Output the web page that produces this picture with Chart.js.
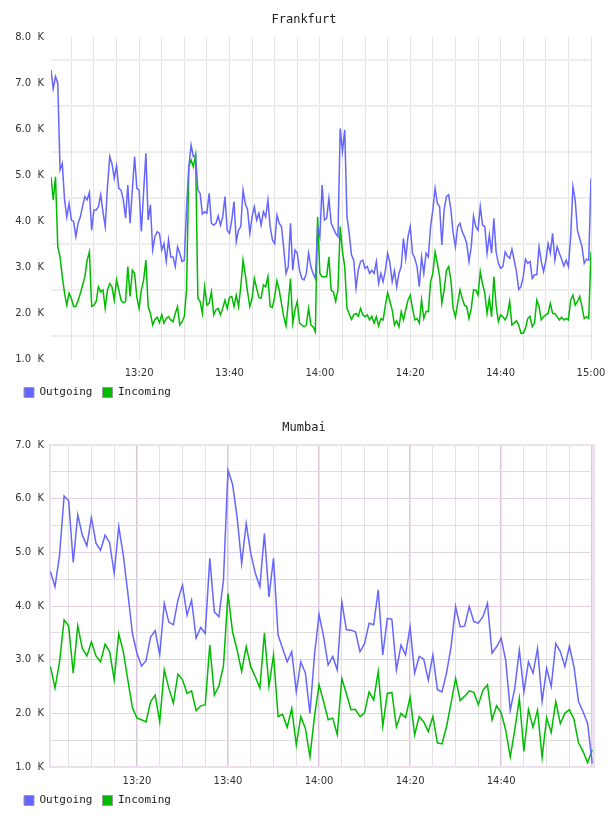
<!DOCTYPE html>
<html>
<head>
<meta charset="utf-8">
<script src="https://cdn.jsdelivr.net/npm/chart.js@4.4.1/dist/chart.umd.min.js"></script>
<style>
  html, body { margin: 0; padding: 0; background: #fff; overflow: hidden; }
  canvas { position: absolute; left: 0; }
  #frankfurt { top: 0; }
  #mumbai { top: 408px; }
</style>
</head>
<body>
<canvas id="frankfurt" width="608" height="408"></canvas>
<canvas id="mumbai" width="608" height="408"></canvas>
<script>
// values are in thousands, time is minutes after 13:00

// Frankfurt: one sample every 30 s starting 13:00:30
var frankfurtStart = 0.5;
var frankfurtStep = 0.5;
var frankfurtOutgoingK = [
  7.28, 6.88, 7.14, 6.99, 5.11, 5.25, 4.46, 4.09, 4.38, 4.02,
  3.99, 3.66, 3.95, 4.09, 4.33, 4.53, 4.46, 4.62, 3.80, 4.24,
  4.24, 4.31, 4.57, 4.20, 3.88, 4.75, 5.40, 5.24, 4.93, 5.20,
  4.71, 4.67, 4.46, 4.06, 4.78, 3.95, 4.67, 5.40, 4.71, 4.67,
  3.77, 4.64, 5.47, 4.02, 4.35, 3.37, 3.66, 3.77, 3.73, 3.37,
  3.51, 3.12, 3.59, 3.22, 3.22, 3.01, 3.44, 3.30, 3.12, 3.15,
  4.28, 5.18, 5.65, 5.40, 5.43, 4.67, 4.60, 4.15, 4.20, 4.17,
  4.60, 3.95, 3.91, 3.95, 4.11, 3.91, 4.09, 4.53, 3.80, 3.73,
  4.02, 4.42, 3.55, 3.80, 3.88, 4.67, 4.38, 4.24, 3.73, 4.09,
  4.31, 4.02, 4.17, 3.91, 4.20, 4.09, 4.46, 3.88, 3.59, 3.51,
  4.13, 3.95, 3.88, 3.41, 2.86, 3.01, 3.95, 2.93, 3.37, 3.30,
  2.93, 2.75, 2.72, 2.86, 3.30, 3.01, 2.86, 2.75, 3.88, 3.66,
  4.78, 4.02, 4.06, 4.49, 3.95, 3.84, 3.73, 3.66, 6.01, 5.51,
  5.98, 4.09, 3.73, 3.26, 3.15, 2.54, 2.93, 3.12, 3.15, 2.97,
  3.01, 2.86, 2.93, 2.86, 3.12, 2.64, 2.86, 2.68, 2.93, 3.30,
  3.09, 2.68, 2.92, 2.57, 2.86, 3.01, 3.62, 3.19, 3.66, 3.88,
  3.30, 3.19, 3.01, 2.57, 3.22, 2.86, 3.30, 3.22, 3.88, 4.24,
  4.71, 4.38, 4.31, 3.48, 4.24, 4.53, 4.57, 4.24, 3.73, 3.44,
  3.88, 3.95, 3.77, 3.66, 3.51, 3.12, 3.44, 4.11, 3.88, 3.80,
  4.31, 3.91, 3.88, 3.30, 3.70, 3.30, 4.06, 3.33, 3.08, 2.97,
  3.01, 3.33, 3.24, 3.19, 3.39, 3.15, 2.90, 2.51, 2.57, 2.79,
  3.17, 3.08, 3.12, 2.75, 2.83, 2.83, 3.44, 3.12, 2.90, 3.13,
  3.51, 3.30, 3.73, 3.15, 3.44, 3.30, 3.17, 3.02, 3.15, 3.01,
  3.66, 4.75, 4.46, 3.80, 3.62, 3.44, 3.08, 3.17, 3.15, 4.93
];
var frankfurtIncomingK = [
  4.96, 4.46, 4.96, 3.44, 3.22, 2.79, 2.43, 2.17, 2.43, 2.32,
  2.14, 2.14, 2.27, 2.43, 2.61, 2.79, 3.15, 3.33, 2.14, 2.17,
  2.25, 2.57, 2.46, 2.50, 2.10, 2.50, 2.64, 2.57, 2.28, 2.72,
  2.50, 2.28, 2.22, 2.25, 3.01, 2.36, 2.93, 2.86, 2.34, 2.10,
  2.50, 2.72, 3.15, 2.14, 1.99, 1.74, 1.86, 1.91, 1.79, 1.96,
  1.78, 1.88, 1.92, 1.85, 1.81, 1.99, 2.14, 1.74, 1.81, 1.92,
  2.50, 5.18, 5.33, 5.18, 5.43, 2.32, 2.25, 1.99, 2.57, 2.17,
  2.21, 2.46, 1.96, 2.07, 2.10, 1.96, 2.10, 2.28, 2.10, 2.34,
  2.36, 2.14, 2.39, 2.14, 2.57, 3.15, 2.83, 2.46, 2.14, 2.32,
  2.75, 2.54, 2.34, 2.32, 2.61, 2.57, 2.79, 2.14, 2.12, 2.36,
  2.70, 2.50, 2.21, 1.92, 1.72, 2.21, 2.75, 1.78, 2.07, 2.25,
  1.78, 1.74, 1.70, 1.74, 2.10, 1.74, 1.70, 1.59, 4.09, 2.86,
  2.79, 2.79, 2.79, 3.22, 2.50, 2.46, 2.25, 2.50, 3.88, 3.33,
  3.01, 2.10, 1.98, 1.86, 1.96, 1.99, 1.93, 2.10, 1.96, 1.92,
  1.96, 1.85, 1.93, 1.78, 1.92, 1.72, 1.88, 1.85, 2.17, 2.44,
  2.25, 2.07, 1.74, 1.83, 1.70, 2.03, 1.85, 2.07, 2.28, 2.39,
  2.10, 1.85, 1.88, 1.78, 2.28, 1.88, 2.03, 2.03, 2.68, 2.86,
  3.33, 3.08, 2.79, 2.21, 2.50, 2.92, 3.01, 2.72, 2.10, 1.91,
  2.21, 2.50, 2.32, 2.17, 2.14, 1.88, 2.10, 2.50, 2.50, 2.39,
  2.90, 2.63, 2.43, 1.99, 2.32, 1.92, 2.79, 2.17, 1.81, 1.96,
  1.92, 1.85, 1.96, 2.25, 1.74, 1.78, 1.83, 1.74, 1.56, 1.56,
  1.67, 1.88, 1.93, 1.70, 1.78, 2.28, 2.14, 1.85, 1.92, 1.96,
  1.99, 2.21, 1.99, 1.99, 1.92, 1.85, 1.91, 1.85, 1.88, 1.85,
  2.28, 2.39, 2.17, 2.25, 2.36, 2.14, 1.88, 1.92, 1.88, 3.33
];

// Mumbai: one sample per minute starting 13:01
var mumbaiStart = 1;
var mumbaiStep = 1;
var mumbaiOutgoingK = [
  4.64, 4.36, 4.95, 6.05, 5.96, 4.81, 5.70, 5.32, 5.12, 5.65,
  5.17, 5.04, 5.32, 5.18, 4.61, 5.48, 4.95, 4.24, 3.49, 3.12,
  2.88, 2.98, 3.42, 3.54, 3.09, 4.05, 3.70, 3.65, 4.11, 4.39,
  3.83, 4.11, 3.40, 3.60, 3.49, 4.89, 3.89, 3.80, 4.48, 6.53,
  6.27, 5.66, 4.79, 5.54, 4.98, 4.61, 4.36, 5.35, 4.17, 4.89,
  3.46, 3.21, 2.96, 3.15, 2.40, 2.96, 2.75, 2.00, 3.09, 3.84,
  3.43, 2.90, 3.06, 2.81, 4.08, 3.56, 3.55, 3.52, 3.15, 3.30,
  3.68, 3.65, 4.30, 3.09, 3.77, 3.75, 2.81, 3.27, 3.09, 3.61,
  2.75, 3.06, 3.01, 2.62, 3.09, 2.44, 2.40, 2.75, 3.24, 3.99,
  3.61, 3.63, 3.99, 3.71, 3.68, 3.80, 4.05, 3.12, 3.24, 3.40,
  2.99, 2.06, 2.47, 3.18, 2.40, 2.96, 2.75, 3.21, 2.22, 2.84,
  2.50, 3.30, 3.15, 2.87, 3.25, 2.87, 2.22, 2.03, 1.81, 1.07
];
var mumbaiIncomingK = [
  2.87, 2.47, 2.96, 3.74, 3.63, 2.75, 3.63, 3.21, 3.07, 3.33,
  3.07, 2.96, 3.29, 3.15, 2.63, 3.48, 3.15, 2.62, 2.11, 1.91,
  1.88, 1.84, 2.22, 2.34, 1.84, 2.81, 2.47, 2.19, 2.73, 2.63,
  2.37, 2.42, 2.05, 2.14, 2.16, 3.27, 2.34, 2.51, 2.88, 4.23,
  3.52, 3.18, 2.78, 3.24, 2.87, 2.68, 2.47, 3.50, 2.50, 3.09,
  1.94, 1.98, 1.74, 2.09, 1.41, 1.94, 1.72, 1.19, 1.94, 2.53,
  2.22, 1.88, 1.91, 1.60, 2.65, 2.37, 2.07, 2.07, 1.94, 2.01,
  2.40, 2.25, 2.78, 1.76, 2.37, 2.39, 1.75, 2.00, 1.92, 2.30,
  1.60, 1.94, 1.84, 1.66, 1.94, 1.45, 1.43, 1.75, 2.19, 2.65,
  2.24, 2.32, 2.42, 2.39, 2.16, 2.43, 2.53, 1.88, 2.14, 2.01,
  1.69, 1.19, 1.69, 2.28, 1.29, 2.07, 1.74, 2.06, 1.18, 1.92,
  1.64, 2.22, 1.81, 2.00, 2.07, 1.89, 1.45, 1.29, 1.08, 1.32
];

var seriesNames = ['Outgoing', 'Incoming'];
var seriesColors = ['#6666ff', '#00bb00'];

// grid every 5 minutes, labels every 20
var xTickMinutes = [5, 10, 15, 20, 25, 30, 35, 40, 45, 50, 55, 60,
                    65, 70, 75, 80, 85, 90, 95, 100, 105, 110, 115, 120];
var frankfurtLabelMinutes = [20, 40, 60, 80, 100, 120];
var mumbaiLabelMinutes = [20, 40, 60, 80, 100];

Chart.defaults.font.family = 'DejaVu Sans';

function toPoints(start, step, values) {
  return values.map(function (v, i) { return { x: start + i * step, y: v }; });
}

function isWhole(v) {
  return Math.abs(v - Math.round(v)) < 1e-6;
}

function clock(minutes) {
  var h = 13 + Math.floor(minutes / 60);
  var m = minutes % 60;
  return h + ':' + (m < 10 ? '0' : '') + m;
}

// flot-style frame around the Mumbai plot
var frameBorder = {
  id: 'frameBorder',
  beforeDatasetsDraw: function (chart) {
    var a = chart.chartArea, ctx = chart.ctx;
    ctx.save();
    ctx.strokeStyle = '#eedfee';
    ctx.lineWidth = 2;
    ctx.strokeRect(a.left, a.top, a.right - a.left, a.bottom - a.top);
    ctx.restore();
  }
};

function buildChart(id, o) {
  return new Chart(document.getElementById(id), {
    type: 'line',
    data: {
      datasets: [{
        label: seriesNames[0],
        data: toPoints(o.start, o.step, o.outgoing),
        borderColor: seriesColors[0],
        backgroundColor: seriesColors[0],
        borderWidth: 1.5,
        pointRadius: 0
      }, {
        label: seriesNames[1],
        data: toPoints(o.start, o.step, o.incoming),
        borderColor: seriesColors[1],
        backgroundColor: seriesColors[1],
        borderWidth: 1.5,
        pointRadius: 0
      }]
    },
    options: {
      responsive: false,
      animation: false,
      layout: { padding: { left: 14, right: 14, top: 0, bottom: 0 } },
      plugins: {
        title: {
          display: true,
          text: o.title,
          color: '#222',
          font: { family: 'DejaVu Sans Mono', size: 12, weight: 'normal', lineHeight: 1.2 },
          padding: { top: 13, bottom: 9.6 }
        },
        legend: {
          position: 'bottom',
          align: 'start',
          labels: {
            boxWidth: 10,
            boxHeight: 10,
            padding: 10,
            color: '#222',
            font: { family: 'DejaVu Sans Mono', size: 11 },
            generateLabels: function (chart) {
              return Chart.defaults.plugins.legend.labels.generateLabels(chart).map(function (l) {
                l.strokeStyle = '#999';
                l.lineWidth = 1;
                return l;
              });
            }
          }
        },
        tooltip: { enabled: false }
      },
      scales: {
        x: {
          type: 'linear',
          min: o.xMin,
          max: o.xMax,
          afterBuildTicks: function (axis) {
            axis.ticks = xTickMinutes.map(function (v) { return { value: v }; });
          },
          afterFit: function (scale) {
            scale.height = 18;
            scale.paddingLeft = 0;
            scale.paddingRight = 0;
          },
          border: { display: false },
          grid: { drawTicks: false, color: o.xGridColor, lineWidth: o.xGridWidth },
          ticks: {
            padding: 8,
            autoSkip: false,
            maxRotation: 0,
            color: '#333',
            font: { size: 10 },
            callback: function (v) { return o.labelMinutes.indexOf(v) >= 0 ? clock(v) : ''; }
          }
        },
        y: {
          min: o.yMin,
          max: o.yMax,
          afterFit: function (scale) { scale.width = o.yWidth; },
          border: { display: false },
          grid: { drawTicks: false, color: o.yGridColor, lineWidth: o.yGridWidth },
          ticks: {
            stepSize: 0.5,
            autoSkip: false,
            padding: o.yPad,
            color: '#333',
            font: { size: 10 },
            callback: function (v) { return isWhole(v) ? v.toFixed(1) + '  K' : ''; }
          }
        },
        // empty strip that keeps the plot off the right edge
        gap: {
          position: 'right',
          display: true,
          afterFit: function (scale) { scale.width = o.rightGap; },
          border: { display: false },
          grid: { display: false },
          ticks: { display: false }
        }
      }
    },
    plugins: o.plugins || []
  });
}

buildChart('frankfurt', {
  title: 'Frankfurt',
  start: frankfurtStart, step: frankfurtStep,
  outgoing: frankfurtOutgoingK, incoming: frankfurtIncomingK,
  xMin: 0.5, xMax: 120, yMin: 1, yMax: 8,
  yWidth: 37, yPad: 7, rightGap: 3,
  labelMinutes: frankfurtLabelMinutes,
  xGridColor: '#e4e4e4', xGridWidth: 1,
  yGridColor: function (ctx) { return isWhole(ctx.tick.value) ? 'rgba(0,0,0,0)' : '#eeeeee'; },
  yGridWidth: 2
});

buildChart('mumbai', {
  title: 'Mumbai',
  start: mumbaiStart, step: mumbaiStep,
  outgoing: mumbaiOutgoingK, incoming: mumbaiIncomingK,
  xMin: 0.9, xMax: 120.4, yMin: 1, yMax: 7,
  yWidth: 36, yPad: 6, rightGap: 0,
  labelMinutes: mumbaiLabelMinutes,
  xGridColor: function (ctx) { return ctx.tick.value % 20 === 0 ? '#dcc6dc' : '#e2e2e2'; },
  xGridWidth: function (ctx) { return ctx.tick.value % 20 === 0 ? 1.5 : 1; },
  yGridColor: function (ctx) { return isWhole(ctx.tick.value) ? '#e6d0e6' : '#dedede'; },
  yGridWidth: 1,
  plugins: [frameBorder]
});
</script>
</body>
</html>
